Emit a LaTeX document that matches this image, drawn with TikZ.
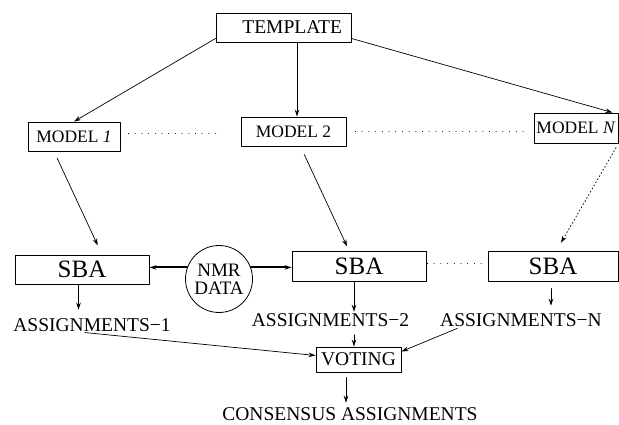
\documentclass[tikz,border=0pt]{standalone}
\usepackage{fontspec}
\setmainfont{Liberation Serif}
\usetikzlibrary{calc,arrows.meta}

\begin{document}
\begin{tikzpicture}[x=1pt, y=-1pt, >={Stealth[length=7pt,width=4.5pt]}, line cap=round, line join=round,
  box/.style={draw, line width=0.9pt, inner sep=0pt},
  txt/.style={font=\fontsize{19.5}{20}\selectfont},
  modeltxt/.style={font=\fontsize{17.5}{18}\selectfont},
  sbatxt/.style={font=\fontsize{25}{26}\selectfont},
  link/.style={->, line width=0.7pt},
  dotline/.style={line width=0.9pt, dash pattern=on 0.1pt off 6.6pt},
  dashline/.style={line width=0.7pt, dash pattern=on 1.6pt off 2pt, line cap=butt},
  fat/.style={->, line width=2pt}]

  \useasboundingbox (0,0) rectangle (619,425);

  % ===== テンプレートとモデル =====
  \node[box, txt, inner xsep=9pt, text width=117pt, align=right, minimum height=29pt]
    (template) at (283.5,27.5) {TEMPLATE};

  \node[box, modeltxt, minimum width=92pt, minimum height=29pt] (model1) at (74,136.5) {MODEL \textit{1}};
  \node[box, modeltxt, minimum width=105pt, minimum height=29pt] (model2) at (293.5,131.5) {MODEL 2};
  \node[box, modeltxt, minimum width=84pt, minimum height=30pt] (modelN) at (576,128) {MODEL \textit{N}};

  \draw[link] ([yshift=4pt]template.south west) -- (model1.north);
  \draw[link] ([xshift=13.5pt]template.south) -- ([xshift=3.5pt]model2.north);
  \draw[link] ([yshift=4pt]template.south east) -- ([xshift=-6pt]modelN.north east);

  \draw[dotline, shorten <=8pt, shorten >=19pt]
  ([yshift=3pt]model1.east) -- ([yshift=3pt]model1.east -| model2.west);
  \draw[dotline, shorten <=9pt, shorten >=7pt]
  (model2.east) -- (model2.east -| modelN.west);

  % ===== SBA と NMR データ =====
  \node[box, sbatxt, minimum width=134pt, minimum height=29pt] (sba1) at (82,269.5) {SBA};
  \node[box, sbatxt, minimum width=134pt, minimum height=30pt] (sba2) at (359,266) {SBA};
  \node[box, sbatxt, minimum width=130pt, minimum height=30pt] (sbaN) at (553,266) {SBA};

  \node[draw, circle, line width=0.8pt, minimum size=67pt, inner sep=0pt, align=center,
    font=\fontsize{19}{18}\selectfont] (nmr) at (219,279) {NMR\\DATA};

  \draw[link, shorten <=7.5pt, shorten >=10pt] ([xshift=-20pt]model1.south) -- ([xshift=20pt]sba1.north);
  \draw[link, shorten <=9pt, shorten >=4.5pt] ([xshift=7pt]model2.south) -- ([xshift=-10pt]sba2.north);
  \draw[link, dashline, shorten <=4.5pt, shorten >=9pt] (modelN.south east) -- ([xshift=3.5pt]sbaN.north);

  \draw[fat] (nmr.160) -- (nmr.160 -| sba1.east);
  \draw[fat] (nmr.20) -- (nmr.20 -| sba2.west);

  \draw[dotline, shorten <=1pt, shorten >=3pt]
  ([yshift=3pt]sba2.east) -- ([yshift=3pt]sba2.east -| sbaN.west);

  % ===== 割り当てと投票 =====
  \node[txt, inner sep=0pt] (assign1) at (92,325.5) {ASSIGNMENTS−1};
  \node[txt, inner sep=0pt] (assign2) at (330.5,320.5) {ASSIGNMENTS−2};
  \node[txt, inner sep=0pt] (assignN) at (521,320.5) {ASSIGNMENTS−N};

  \draw[link, shorten >=9pt] ([xshift=-3.5pt]sba1.south) -- ([xshift=-3.5pt]sba1.south |- assign1.north);
  \draw[link, shorten >=2pt] ([xshift=-5pt]sba2.south) -- ([xshift=-5pt]sba2.south |- assign2.north);
  \draw[link, shorten <=7pt, shorten >=8pt] ([xshift=-2pt]sbaN.south) -- ([xshift=-2pt]sbaN.south |- assignN.north);

  \node[box, txt, minimum width=85pt, minimum height=25pt] (voting) at (358.5,359.5) {VOTING};
  \node[txt, inner sep=0pt] (consensus) at (350,414.5) {CONSENSUS ASSIGNMENTS};

  \draw[link, shorten <=3pt] ([xshift=-10pt]assign1.south) -- ([yshift=4pt]voting.west);
  \draw[link, shorten <=7.5pt] ([xshift=-4.5pt]voting.north |- assign2.south) -- ([xshift=-4.5pt]voting.north);
  \draw[link, shorten <=3pt] ([xshift=-61pt]assignN.south) -- ([yshift=8pt]voting.east);
  \draw[link, shorten <=5pt, shorten >=5pt]
  ([xshift=-12.5pt]voting.south) -- ([xshift=-12.5pt]voting.south |- consensus.north);

\end{tikzpicture}
\end{document}
